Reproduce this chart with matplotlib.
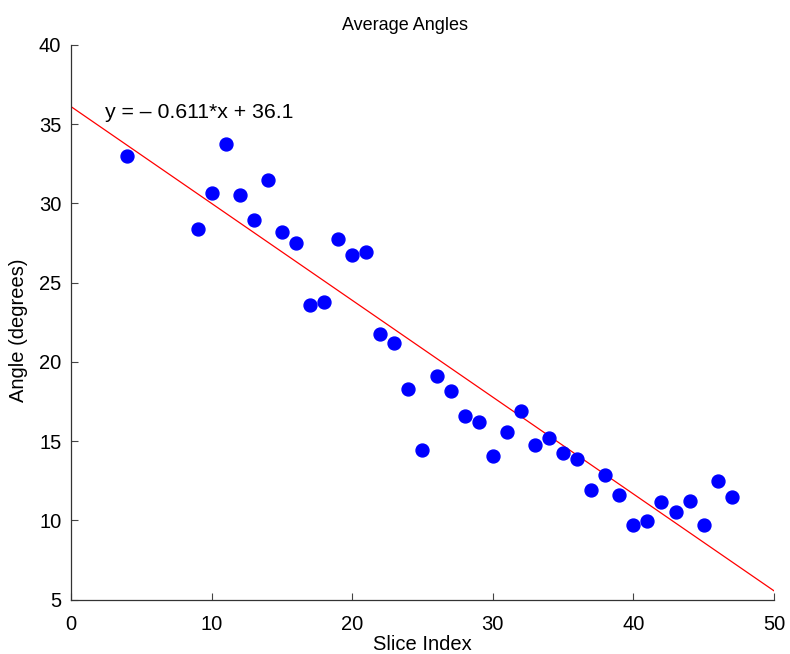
import numpy as np
import matplotlib.pyplot as plt

plt.rcParams['font.family'] = ['Liberation Sans', 'DejaVu Sans']

# slice index and mean angle
slices = [4, 9, 10, 11, 12, 13, 14, 15, 16, 17, 18, 19, 20, 21, 22, 23, 24, 25,
          26, 27, 28, 29, 30, 31, 32, 33, 34, 35, 36, 37, 38, 39, 40, 41, 42, 43,
          44, 45, 46, 47]
angles = [32.98, 28.38, 30.65, 33.74, 30.52, 28.95, 31.47, 28.19, 27.5, 23.58,
          23.77, 27.74, 26.74, 26.93, 21.75, 21.18, 18.28, 14.44, 19.1, 18.16,
          16.58, 16.2, 14.06, 15.57, 16.9, 14.75, 15.2, 14.25, 13.87, 11.9,
          12.85, 11.6, 9.7, 9.95, 11.15, 10.52, 11.22, 9.7, 12.48, 11.47]
# linear fit as printed on the chart
fit = [-0.611, 36.1]

fig = plt.figure(figsize=(7.9, 6.54), dpi=100)
ax = fig.add_axes([0.0899, 0.0833, 0.8898, 0.8482])

xl = np.array([0, 50])
ax.plot(xl, np.polyval(fit, xl), color='red', lw=0.9)
ax.plot(slices, angles, 'o', color='blue', ms=9.3, mec='blue')

ax.text(2.42, 35.38, 'y = \u2013 0.611*x + 36.1', fontsize=15.3, va='baseline')

ax.set_xlim(0, 50)
ax.set_ylim(5, 40)
ax.set_xticks(range(0, 51, 10))
ax.set_yticks(range(5, 41, 5))
ax.tick_params(direction='in', length=5, labelsize=14.5, width=0.8, color='#444444')
ax.tick_params(axis='x', pad=11)
ax.tick_params(axis='y', pad=7)
ax.spines['top'].set_visible(False)
ax.spines['right'].set_visible(False)
for s in ('left', 'bottom'):
    ax.spines[s].set_color('#333333')
    ax.spines[s].set_linewidth(0.9)

ax.set_title('Average Angles', fontsize=13, pad=11, x=0.475)
ax.set_xlabel('Slice Index', fontsize=14.5)
ax.set_ylabel('Angle (degrees)', fontsize=14.5)
ax.xaxis.set_label_coords(0.5, -0.064)
ax.yaxis.set_label_coords(-0.061, 0.485)

fig.savefig('out.png', dpi=100)
